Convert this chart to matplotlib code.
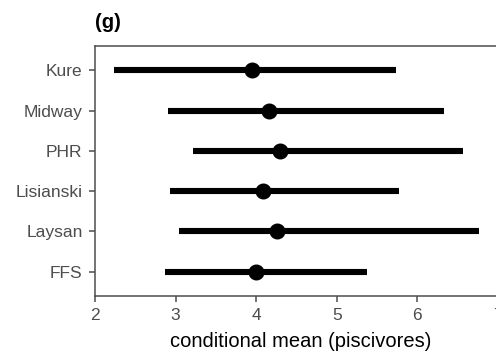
import matplotlib
matplotlib.use('Agg')
import matplotlib.pyplot as plt

plt.rcParams['font.family'] = ['Liberation Sans', 'DejaVu Sans']

sites = ['Kure', 'Midway', 'PHR', 'Lisianski', 'Laysan', 'FFS']
means = [3.95, 4.16, 4.30, 4.09, 4.26, 4.00]
lower = [2.23, 2.90, 3.21, 2.93, 3.04, 2.87]
upper = [5.74, 6.33, 6.57, 5.77, 6.77, 5.38]

grey = '#4d4d4d'

fig = plt.figure(figsize=(4.96, 3.52), dpi=100)
# x axis runs off the right edge like in the original crop
ax = fig.add_axes([95/496, 1 - 296/352, (498 - 95)/496 * 1.02, 250/352])

ypos = list(range(len(sites)))[::-1]
for y, lo, hi, m in zip(ypos, lower, upper, means):
    ax.plot([lo, hi], [y, y], color='black', lw=4.4, solid_capstyle='butt')
    ax.plot(m, y, 'o', color='black', ms=10.5)

ax.set_xlim(2, 7.1)
ax.set_ylim(-0.6, len(sites) - 0.4)
ax.set_yticks(ypos)
ax.set_yticklabels(sites)
ax.set_xticks([2, 3, 4, 5, 6, 7])
ax.tick_params(colors=grey, labelsize=12.5, length=4, width=1.1)
ax.tick_params(axis='x', pad=5)
ax.tick_params(axis='y', pad=5)
for s in ax.spines.values():
    s.set_color(grey)
    s.set_linewidth(1.1)
ax.set_xlabel('conditional mean (piscivores)', fontsize=14.5, color='black', labelpad=6)
fig.text(95/496, 1 - 22/352, '(g)', fontsize=14.5, fontweight='bold', va='center', ha='left')

fig.savefig('out.png', dpi=100)
